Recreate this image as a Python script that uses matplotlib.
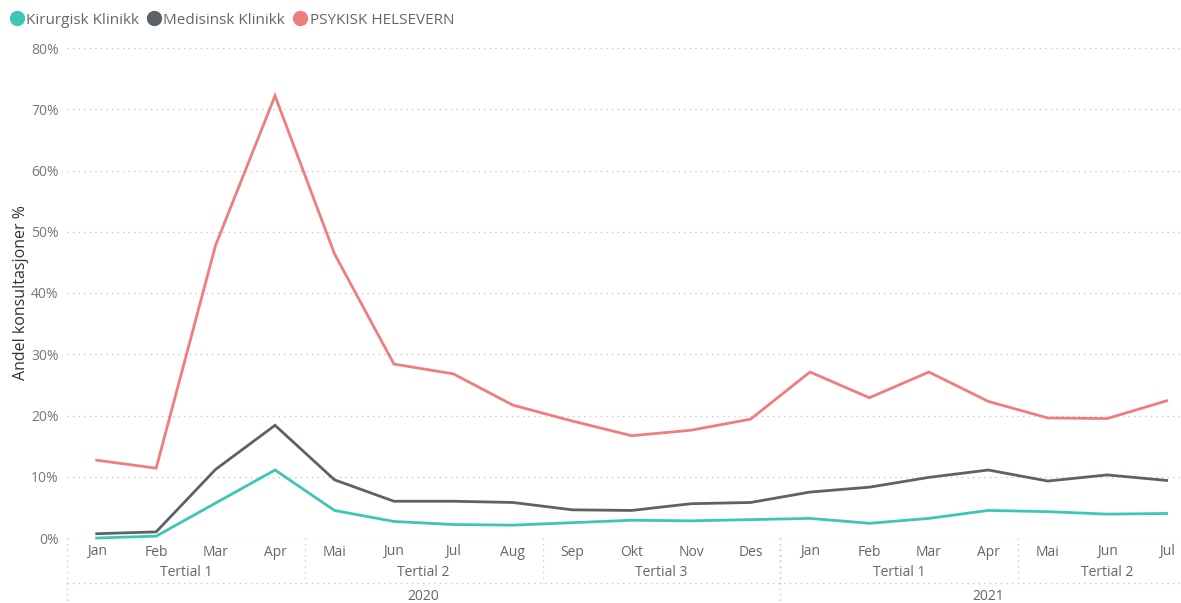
import matplotlib
matplotlib.use("Agg")
import matplotlib.pyplot as plt
from matplotlib.lines import Line2D

plt.rcParams['font.family'] = ['Open Sans', 'DejaVu Sans']

months = ["Jan", "Feb", "Mar", "Apr", "Mai", "Jun", "Jul", "Aug", "Sep", "Okt", "Nov", "Des",
          "Jan", "Feb", "Mar", "Apr", "Mai", "Jun", "Jul"]
tertials = ["Tertial 1", "Tertial 2", "Tertial 3", "Tertial 1", "Tertial 2"]
tertial_sizes = [4, 4, 4, 4, 3]
years = ["2020", "2021"]
year_sizes = [12, 7]

kirurgisk = [0.0, 0.3, 5.7, 11.1, 4.5, 2.7, 2.2, 2.1, 2.5, 2.9, 2.8, 3.0,
             3.2, 2.4, 3.2, 4.5, 4.3, 3.9, 4.0]
medisinsk = [0.7, 1.0, 11.2, 18.4, 9.5, 6.0, 6.0, 5.8, 4.6, 4.5, 5.6, 5.8,
             7.5, 8.3, 9.9, 11.1, 9.3, 10.3, 9.4]
psykisk = [12.7, 11.4, 47.8, 72.2, 46.4, 28.4, 26.8, 21.7, 19.1, 16.7, 17.6, 19.4,
           27.1, 22.9, 27.1, 22.3, 19.6, 19.5, 22.4]

series_names = ["Kirurgisk Klinikk", "Medisinsk Klinikk", "PSYKISK HELSEVERN"]
colors = ["#3EC6B4", "#5B6366", "#F07D7E"]

W, H = 1181, 603
fig = plt.figure(figsize=(W / 100, H / 100), dpi=100)
ax = fig.add_axes([67 / W, (H - 538) / H, (W - 67) / W, (538 - 48) / H])
x = list(range(len(months)))
ax.set_xlim(-0.5, -0.5 + (W - 67) / 59.44)
ax.set_ylim(0, 80)

for vals, c in zip([kirurgisk, medisinsk, psykisk], colors):
    ax.plot(x, vals, color=c, lw=2.0, clip_on=False, zorder=3, solid_joinstyle='miter')

for s in ax.spines.values():
    s.set_visible(False)
ax.set_yticks(range(0, 81, 10))
ax.set_yticklabels([f"{v}%" for v in range(0, 81, 10)], color="#777777", fontsize=10)
ax.tick_params(axis='y', length=0, pad=6)
ax.tick_params(axis='x', length=0)
ax.set_xticks([])
for v in range(0, 81, 10):
    ax.axhline(v, color="#C8C8C8", lw=1.0, ls=(0, (1, 3)), zorder=1)

ax.set_ylabel("Andel konsultasjoner %", fontsize=11.5, color="#333333", labelpad=1.5)

def xdata_to_fig(xd):
    return ax.transData.transform((xd, 0))[0] / W

for i, m in enumerate(months):
    fig.text(xdata_to_fig(i), 1 - 552 / H, m, ha='center', va='center', fontsize=10, color="#666666")

grid_kw = dict(color="#C8C8C8", lw=1.0, ls=(0, (1, 3)))
fig.add_artist(Line2D([67 / W, 67 / W], [1 - 538 / H, 0], **grid_kw))
fig.add_artist(Line2D([67 / W, 1], [1 - 583 / H, 1 - 583 / H], **grid_kw))

start = 0
for t, n in zip(tertials, tertial_sizes):
    center = start + (n - 1) / 2
    fig.text(xdata_to_fig(center), 1 - 572 / H, t, ha='center', va='center', fontsize=10, color="#666666")
    end = start + n
    if end < len(months):
        xb = xdata_to_fig(end - 0.5)
        fig.add_artist(Line2D([xb, xb], [1 - 538 / H, 1 - 583 / H], **grid_kw))
    start = end

start = 0
for yname, n in zip(years, year_sizes):
    center = start + (n - 1) / 2
    fig.text(xdata_to_fig(center), 1 - 596 / H, yname, ha='center', va='center', fontsize=10, color="#666666")
    end = start + n
    if end < len(months):
        xb = xdata_to_fig(end - 0.5)
        fig.add_artist(Line2D([xb, xb], [1 - 538 / H, 0], **grid_kw))
    start = end

handles = [Line2D([], [], marker='o', ls='', color=c, markersize=10) for c in colors]
leg = fig.legend(handles, series_names, loc='upper left', bbox_to_anchor=(0.0, 1 - 5 / H),
                 ncol=3, frameon=False, fontsize=11, handletextpad=0.0,
                 columnspacing=0.4, borderaxespad=0.3, borderpad=0.2, handlelength=1.2)
for t in leg.get_texts():
    t.set_color("#666666")

fig.savefig("out.png", dpi=100)
